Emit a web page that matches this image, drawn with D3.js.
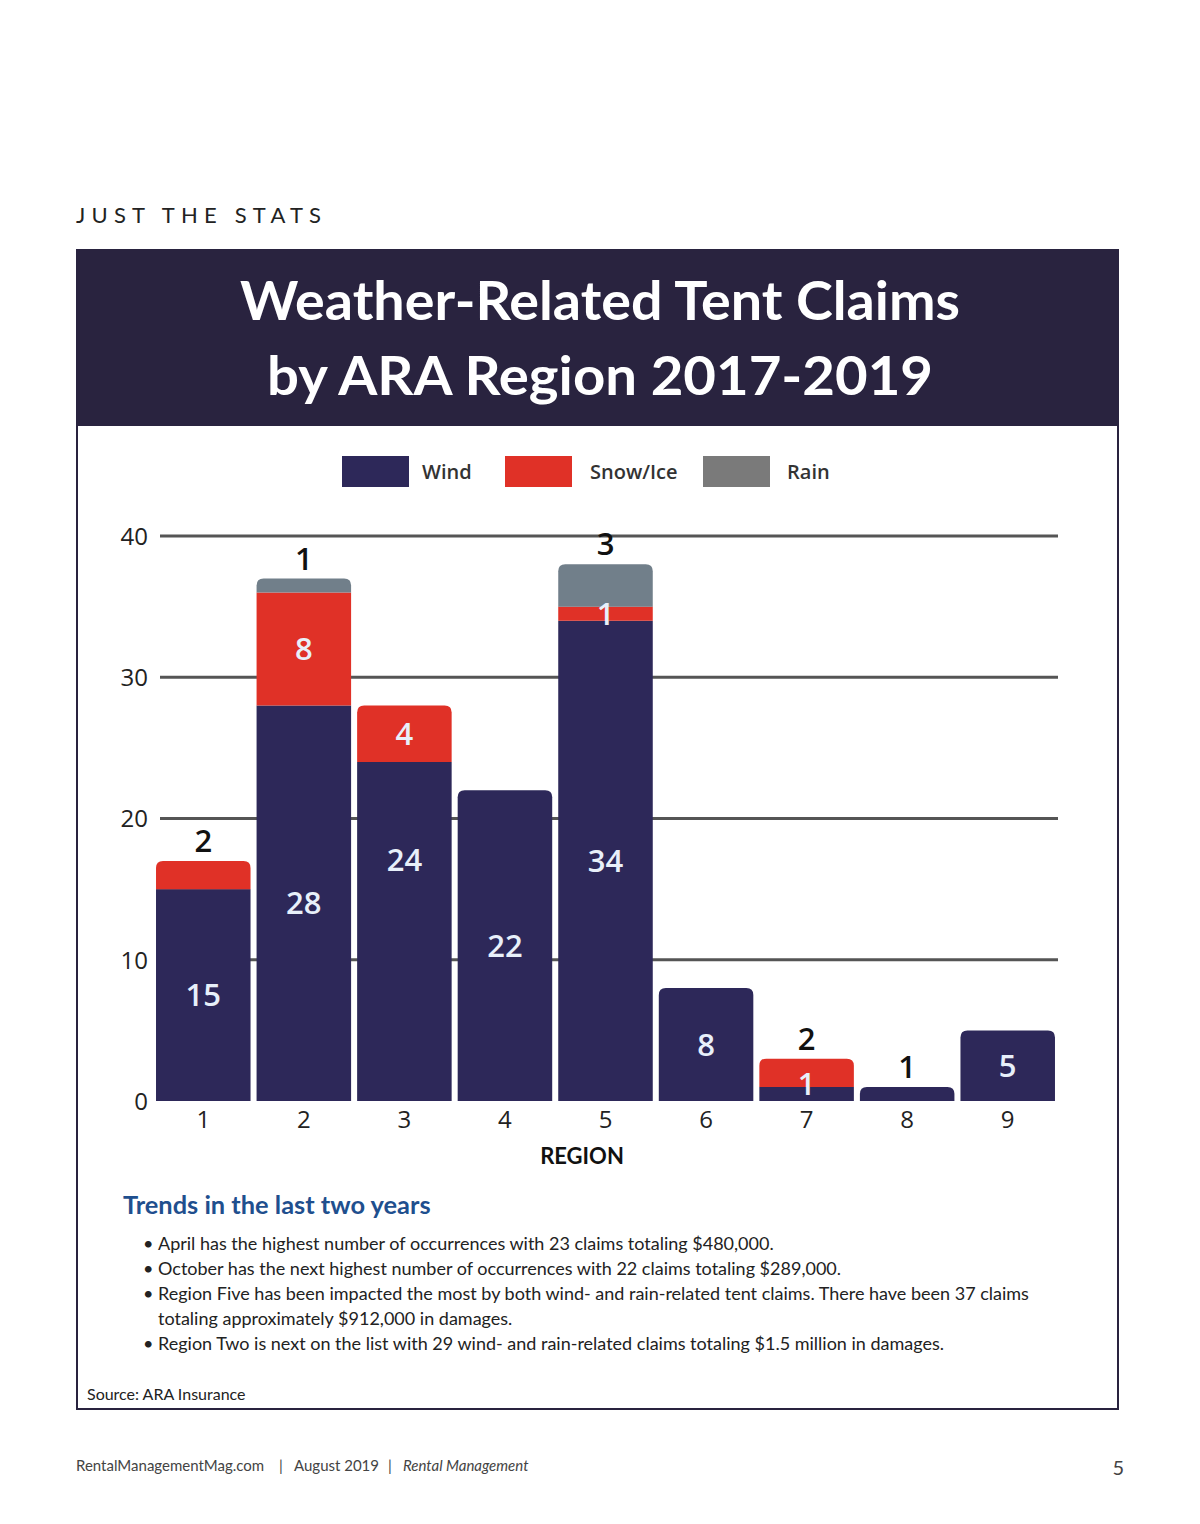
<!DOCTYPE html>
<html><head><meta charset="utf-8">
<script src="https://cdn.jsdelivr.net/npm/d3@7"></script>
<style>body{margin:0;background:#fff}svg{display:block}</style>
</head><body><svg id="c" width="1200" height="1524"></svg>
<script>
// ---- data ----
const regions = ["1","2","3","4","5","6","7","8","9"];
const seriesNames = ["Wind","Snow/Ice","Rain"];
const wind = [15,28,24,22,34,8,1,1,5];
const snowIce = [2,8,4,0,1,0,2,0,0];
const rain = [0,1,0,0,3,0,0,0,0];
const yTicks = [0,10,20,30,40];
const seriesColors = ["#2d2859","#e03127","#717f8a"];
const titleLines = ["Weather-Related Tent Claims","by ARA Region 2017-2019"];
const bullets = [
 ["April has the highest number of occurrences with 23 claims totaling $480,000."],
 ["October has the next highest number of occurrences with 22 claims totaling $289,000."],
 ["Region Five has been impacted the most by both wind- and rain-related tent claims. There have been 37 claims","totaling approximately $912,000 in damages."],
 ["Region Two is next on the list with 29 wind- and rain-related claims totaling $1.5 million in damages."]
];
const footerParts = ["RentalManagementMag.com","|","August 2019","|","Rental Management"];
// label anchor overrides (data units) where the original does not center the label
const labelOverride = {"3-0":17.1, "7-0":1.25};

const svg = d3.select("#c");
const navy = "#29233f";

// header text
svg.append("text").attr("x",76).attr("y",223).attr("font-family","Lato, sans-serif").attr("font-weight",400)
  .attr("font-size",22).attr("letter-spacing","6.2px").attr("fill","#222").text("JUST THE STATS");

// outer frame + header
svg.append("rect").attr("x",77).attr("y",250).attr("width",1041).attr("height",1159).attr("fill","none").attr("stroke",navy).attr("stroke-width",2);
svg.append("rect").attr("x",76).attr("y",249).attr("width",1043).attr("height",177).attr("fill",navy);
const tl = [[600,320,720],[600,395,666]];
titleLines.forEach((t,i)=>{
  svg.append("text").attr("x",tl[i][0]).attr("y",tl[i][1]).attr("text-anchor","middle")
   .attr("font-family","Lato, sans-serif").attr("font-weight",700).attr("font-size",54).attr("fill","#fff")
   .attr("textLength",tl[i][2]).attr("lengthAdjust","spacingAndGlyphs").text(t);
});

// legend
const legX = [342,505,703], legT=[422,590,787];
seriesNames.forEach((s,i)=>{
  svg.append("rect").attr("x",legX[i]).attr("y",456).attr("width",67).attr("height",31).attr("fill",i==2?"#7a7a7a":seriesColors[i]);
  svg.append("text").attr("x",legT[i]).attr("y",479).attr("font-family","'Open Sans', sans-serif").attr("font-weight",600)
    .attr("font-size",20).attr("fill","#333").text(s);
});

// scales
const y = d3.scaleLinear().domain([0,40]).range([1101,536]);
const x = d3.scaleBand().domain(regions).range([153,1058]).paddingInner(0.06).paddingOuter(0.03);

// grid
const grid = svg.append("g");
yTicks.filter(d=>d>0).forEach(t=>{
  grid.append("line").attr("x1",160).attr("x2",1058).attr("y1",y(t)).attr("y2",y(t)).attr("stroke","#555").attr("stroke-width",3);
});
// y axis labels
const yAxis = svg.append("g").attr("transform","translate(148,0)")
  .call(d3.axisLeft(y).tickValues(yTicks).tickSize(0).tickPadding(0));
yAxis.select(".domain").remove();
yAxis.selectAll("text").attr("font-family","'Open Sans', sans-serif").attr("font-size",24).attr("fill","#222").attr("dy","0.35em");

// x axis labels
const xAxis = svg.append("g").attr("transform","translate(0,1111)")
  .call(d3.axisBottom(x).tickSize(0).tickPadding(0));
xAxis.select(".domain").remove();
xAxis.selectAll("text").attr("font-family","'Open Sans', sans-serif").attr("font-size",24).attr("fill","#222").attr("dy","0.71em");
svg.append("text").attr("x",582).attr("y",1164).attr("text-anchor","middle").attr("font-family","Lato, sans-serif")
  .attr("font-weight",700).attr("font-size",22).attr("fill","#111").text("REGION");

// stacked bars
const table = regions.map((r,i)=>({region:r, v:[wind[i],snowIce[i],rain[i]]}));
function topRounded(x0,y0,w,h,r){
  r=Math.min(r,h);
  return `M${x0},${y0+h}V${y0+r}Q${x0},${y0} ${x0+r},${y0}H${x0+w-r}Q${x0+w},${y0} ${x0+w},${y0+r}V${y0+h}Z`;
}
const bars = svg.append("g");
const labels = svg.append("g");
table.forEach((d,ri)=>{
  let cum=0;
  const lastIdx = d.v.reduce((a,v,i)=>v>0?i:a,-1);
  const total = d3.sum(d.v);
  d.v.forEach((v,si)=>{
    if(v<=0) return;
    const y0=y(cum+v), y1=y(cum);
    const bx=x(d.region), bw=x.bandwidth();
    if(si===lastIdx) bars.append("path").attr("d",topRounded(bx,y0,bw,y1-y0,7)).attr("fill",seriesColors[si]);
    else bars.append("rect").attr("x",bx).attr("y",y0).attr("width",bw).attr("height",y1-y0).attr("fill",seriesColors[si]);
    const isTop = si===lastIdx;
    const key = `${d.region}-${si}`;
    let ly, fill;
    if(isTop && v<4){ ly = y(total)-20; fill="#111"; }
    else { ly = y(labelOverride[key]!==undefined?labelOverride[key]:cum+v/2); fill="#e8f0fa"; }
    labels.append("text").attr("x",bx+bw/2).attr("y",ly).attr("dy","0.36em").attr("text-anchor","middle")
      .attr("font-family","'Open Sans', sans-serif").attr("font-weight",600).attr("font-size",31).attr("fill",fill).text(v);
    cum+=v;
  });
});

// trends
svg.append("text").attr("x",123).attr("y",1214).attr("font-family","Lato, sans-serif").attr("font-weight",700)
  .attr("font-size",25.4).attr("fill","#1f4f8e").text("Trends in the last two years");
let by=1250;
bullets.forEach(b=>{
  svg.append("text").attr("x",143).attr("y",by).attr("font-family","Lato, sans-serif").attr("font-size",18).attr("fill","#222").text("•");
  b.forEach(line=>{
    svg.append("text").attr("x",158).attr("y",by).attr("font-family","Lato, sans-serif").attr("font-size",18).attr("fill","#222").text(line);
    by+=25;
  });
});
svg.append("text").attr("x",87).attr("y",1400).attr("font-family","Lato, sans-serif").attr("font-size",16).attr("fill","#222").text("Source: ARA Insurance");

// footer
const footX = [76,279,294,388,403];
footerParts.forEach((p,i)=>{
  svg.append("text").attr("x",footX[i]).attr("y",1471).attr("font-family","Lato, sans-serif").attr("font-size",15)
    .attr("fill","#444").attr("font-style",i===4?"italic":"normal").text(p);
});
svg.append("text").attr("x",1124).attr("y",1475).attr("text-anchor","end").attr("font-family","Lato, sans-serif").attr("font-size",20).attr("fill","#444").text("5");
</script></body></html>
